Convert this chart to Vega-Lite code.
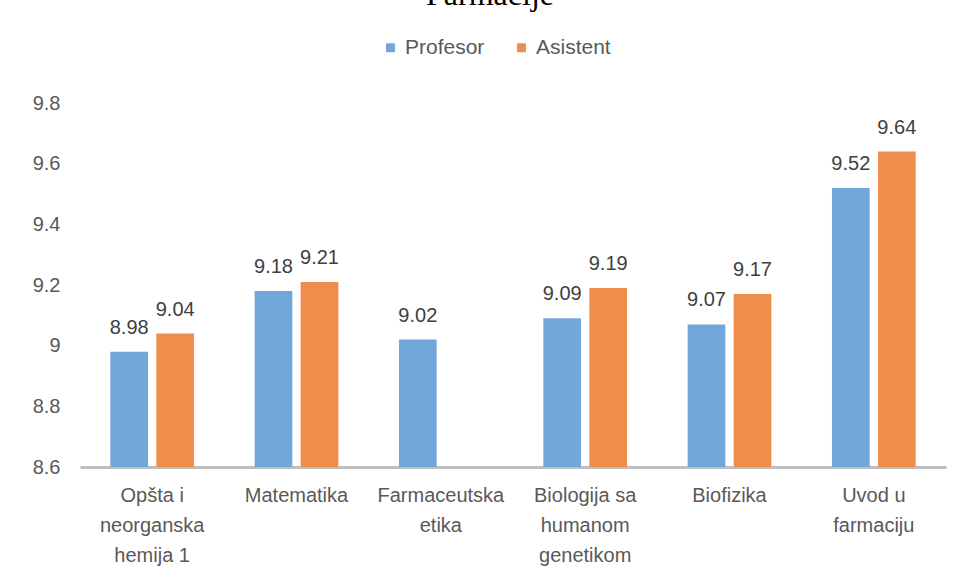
{
  "$schema": "https://vega.github.io/schema/vega-lite/v6.json",
  "autosize": "none",
  "width": 866,
  "height": 364,
  "padding": {"left": 80, "top": 103, "right": 11, "bottom": 116},
  "background": "white",
  "config": {"view": {"stroke": null}},
  "title": {
    "text": "Farmacije",
    "font": "Liberation Serif",
    "fontSize": 32,
    "fontWeight": "normal",
    "color": "#000000",
    "anchor": "middle",
    "baseline": "alphabetic",
    "offset": 0,
    "dy": 0,
    "dx": -23
  },
  "data": {
    "values": [
      {"predmet": "Opšta i neorganska hemija 1", "uloga": "Profesor", "ocena": 8.98},
      {"predmet": "Opšta i neorganska hemija 1", "uloga": "Asistent", "ocena": 9.04},
      {"predmet": "Matematika", "uloga": "Profesor", "ocena": 9.18},
      {"predmet": "Matematika", "uloga": "Asistent", "ocena": 9.21},
      {"predmet": "Farmaceutska etika", "uloga": "Profesor", "ocena": 9.02},
      {"predmet": "Biologija sa humanom genetikom", "uloga": "Profesor", "ocena": 9.09},
      {"predmet": "Biologija sa humanom genetikom", "uloga": "Asistent", "ocena": 9.19},
      {"predmet": "Biofizika", "uloga": "Profesor", "ocena": 9.07},
      {"predmet": "Biofizika", "uloga": "Asistent", "ocena": 9.17},
      {"predmet": "Uvod u farmaciju", "uloga": "Profesor", "ocena": 9.52},
      {"predmet": "Uvod u farmaciju", "uloga": "Asistent", "ocena": 9.64}
    ]
  },
  "encoding": {
    "x": {
      "field": "predmet",
      "type": "nominal",
      "sort": null,
      "scale": {"paddingInner": 0.42, "paddingOuter": 0.21},
      "axis": {
        "title": null,
        "labelAngle": 0,
        "ticks": false,
        "domainColor": "#bfbfbf",
        "domainWidth": 3,
        "labelPadding": 18,
        "labelFont": "Liberation Sans",
        "labelFontSize": 20,
        "labelColor": "#595959",
        "labelLineHeight": 30,
        "labelBaseline": "top",
        "labelExpr": "datum.value == 'Opšta i neorganska hemija 1' ? ['Opšta i','neorganska','hemija 1'] : datum.value == 'Farmaceutska etika' ? ['Farmaceutska','etika'] : datum.value == 'Biologija sa humanom genetikom' ? ['Biologija sa','humanom','genetikom'] : datum.value == 'Uvod u farmaciju' ? ['Uvod u','farmaciju'] : datum.value"
      }
    },
    "xOffset": {
      "field": "uloga",
      "type": "nominal",
      "scale": {"domain": ["Profesor", "Asistent"], "paddingInner": 0.18, "paddingOuter": 0}
    },
    "y": {
      "field": "ocena",
      "type": "quantitative",
      "scale": {"domain": [8.6, 9.8], "zero": false, "nice": false},
      "axis": {
        "title": null,
        "values": [8.6, 8.8, 9.0, 9.2, 9.4, 9.6, 9.8],
        "format": ".1~f",
        "grid": false,
        "domain": false,
        "ticks": false,
        "labelPadding": 20,
        "labelFont": "Liberation Sans",
        "labelFontSize": 20,
        "labelColor": "#595959"
      }
    }
  },
  "layer": [
    {
      "mark": {"type": "bar"},
      "encoding": {
        "y2": {"datum": 8.6},
        "color": {
          "field": "uloga",
          "type": "nominal",
          "scale": {"domain": ["Profesor", "Asistent"], "range": ["#72a7dc", "#f08d4c"]},
          "legend": {
            "title": null,
            "orient": "none",
            "direction": "horizontal",
            "legendX": 300,
            "legendY": -66,
            "symbolType": "square",
            "symbolSize": 80,
            "labelFont": "Liberation Sans",
            "labelFontSize": 21,
            "labelColor": "#595959",
            "columnPadding": 26,
            "labelOffset": 4
          }
        }
      }
    },
    {
      "mark": {"type": "text", "baseline": "alphabetic", "dy": -18, "font": "Liberation Sans", "fontSize": 20, "color": "#404040"},
      "encoding": {
        "text": {"field": "ocena", "type": "quantitative", "format": ".2f"}
      }
    }
  ]
}
